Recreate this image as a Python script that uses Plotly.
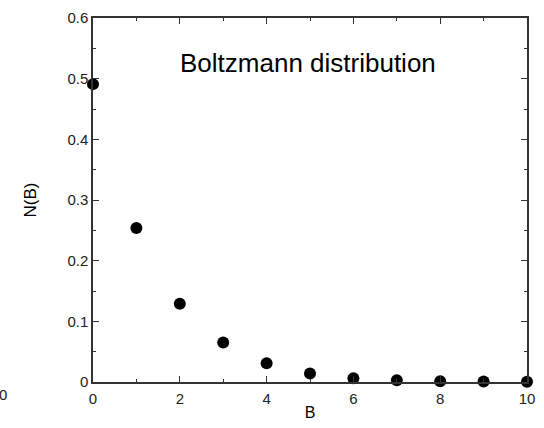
import plotly.graph_objects as go

B = [0, 1, 2, 3, 4, 5, 6, 7, 8, 9, 10]
NB = [0.491, 0.254, 0.129, 0.065, 0.031, 0.014, 0.006, 0.003, 0.0012, 0.0007, 0.0003]
x_ticks = [0, 2, 4, 6, 8, 10]
y_ticks = [0, 0.1, 0.2, 0.3, 0.4, 0.5, 0.6]
y_tick_text = ["0", "0.1", "0.2", "0.3", "0.4", "0.5", "0.6"]

L, R, T, Bm = 93, 9, 16, 43
W, H = 544, 428
pw = W - L - R
ph = H - T - Bm

fig = go.Figure()
fig.add_trace(go.Scatter(
    x=B, y=NB, mode="markers",
    marker=dict(color="black", size=12),
    cliponaxis=False, showlegend=False,
))

axis_common = dict(
    showgrid=False, zeroline=False, showline=True, linecolor="#333333", linewidth=1.5,
    mirror="ticks", ticks="inside", ticklen=6, tickwidth=1.3, tickcolor="#333333",
    tickfont=dict(family="Liberation Sans, Arial", size=15, color="#222222"),
)

fig.update_xaxes(
    range=[0, 10], tickvals=x_ticks, ticktext=[str(v) for v in x_ticks],
    minor=dict(dtick=1, ticks="inside", ticklen=3, tickcolor="#333333", tickwidth=1.3),
    title=dict(text="B", font=dict(family="Liberation Sans, Arial", size=16, color="black"), standoff=1),
    ticklabelstandoff=2,
    **axis_common,
)
fig.update_yaxes(
    range=[0, 0.6], tickvals=y_ticks, ticktext=y_tick_text,
    minor=dict(dtick=0.05, ticks="inside", ticklen=3, tickcolor="#333333", tickwidth=1.3),
    title=dict(text="N(B)", font=dict(family="Liberation Sans, Arial", size=17, color="black"), standoff=26),
    **axis_common,
)

fig.add_annotation(
    text="Boltzmann distribution", xref="paper", yref="paper",
    x=(312 - L) / pw, y=(H - Bm - 62) / ph, xanchor="center", yanchor="middle",
    showarrow=False, font=dict(family="Liberation Sans, Arial", size=26, color="black"),
)
fig.add_annotation(
    text="0", xref="paper", yref="paper",
    x=(1 - L) / pw, y=(H - Bm - 398) / ph, xanchor="center", yanchor="middle",
    showarrow=False, font=dict(family="Liberation Sans, Arial", size=15, color="#222222"),
)

fig.update_layout(
    width=W, height=H,
    margin=dict(l=L, r=R, t=T, b=Bm),
    paper_bgcolor="white", plot_bgcolor="white",
)

fig.write_html("out.html")
